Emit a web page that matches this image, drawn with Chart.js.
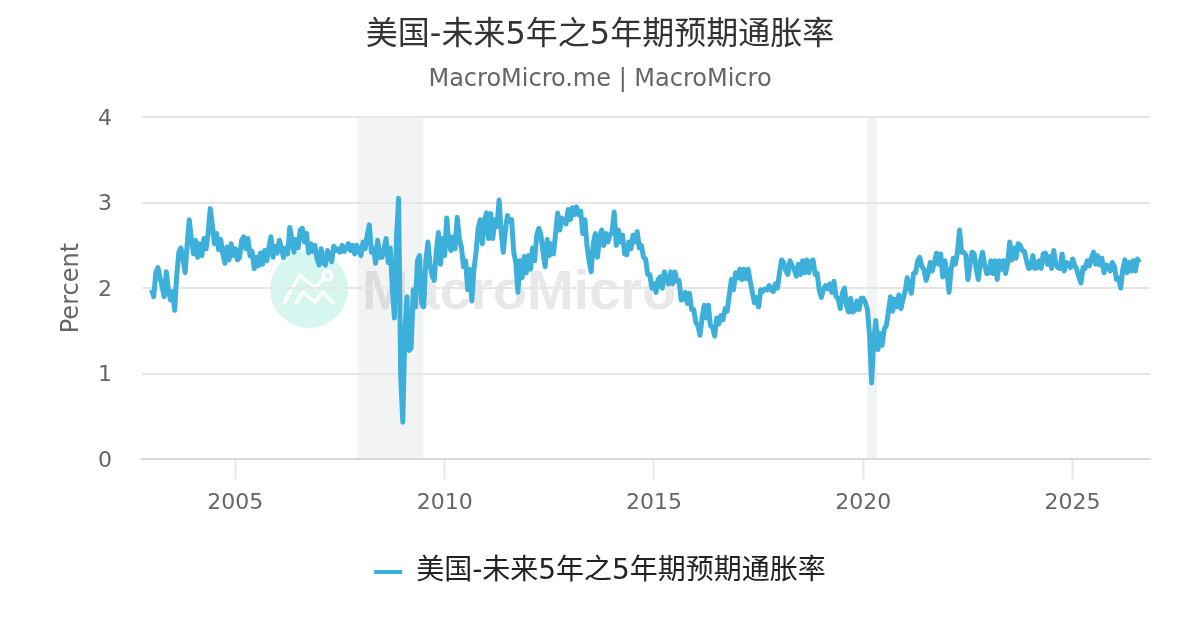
<!DOCTYPE html>
<html>
<head>
<meta charset="utf-8">
<style>
  html, body { margin: 0; padding: 0; background: #fff; }
  canvas { display: block; }
</style>
<script src="https://cdn.jsdelivr.net/npm/chart.js@4"></script>
</head>
<body>
<canvas id="chart" width="1200" height="630"></canvas>
<script>
const seriesName = '美国-未来5年之5年期预期通胀率';
const subtitleText = 'MacroMicro.me | MacroMicro';
const yAxisName = 'Percent';
const xTicks = [2005, 2010, 2015, 2020, 2025];
const yTicks = [0, 1, 2, 3, 4];
// 衰退区间 (start, end)
const recessionStarts = [2007.92, 2020.09];
const recessionEnds = [2009.49, 2020.33];

const dates = [
  2003.00,2003.05,2003.10,2003.15,2003.20,2003.25,2003.30,2003.35,2003.40,2003.45,2003.50,2003.55,2003.60,2003.65,2003.70,2003.75,2003.80,2003.85,2003.90,2003.95,
  2004.00,2004.05,2004.10,2004.15,2004.20,2004.25,2004.30,2004.35,2004.40,2004.45,2004.50,2004.55,2004.60,2004.65,2004.70,2004.75,2004.80,2004.85,2004.90,2004.95,
  2005.00,2005.05,2005.10,2005.15,2005.20,2005.25,2005.30,2005.35,2005.40,2005.45,2005.50,2005.55,2005.60,2005.65,2005.70,2005.75,2005.80,2005.85,2005.90,2005.95,
  2006.00,2006.05,2006.10,2006.15,2006.20,2006.25,2006.30,2006.35,2006.40,2006.45,2006.50,2006.55,2006.60,2006.65,2006.70,2006.75,2006.80,2006.85,2006.90,2006.95,
  2007.00,2007.05,2007.10,2007.15,2007.20,2007.25,2007.30,2007.35,2007.40,2007.45,2007.50,2007.55,2007.60,2007.65,2007.70,2007.75,2007.80,2007.85,2007.90,2007.95,
  2008.00,2008.05,2008.10,2008.15,2008.20,2008.25,2008.30,2008.35,2008.40,2008.45,2008.50,2008.55,2008.60,2008.65,2008.70,2008.75,2008.80,2008.85,2008.90,2008.95,
  2009.00,2009.05,2009.10,2009.15,2009.20,2009.25,2009.30,2009.35,2009.40,2009.45,2009.50,2009.55,2009.60,2009.65,2009.70,2009.75,2009.80,2009.85,2009.90,2009.95,
  2010.00,2010.05,2010.10,2010.15,2010.20,2010.25,2010.30,2010.35,2010.40,2010.45,2010.50,2010.55,2010.60,2010.65,2010.70,2010.75,2010.80,2010.85,2010.90,2010.95,
  2011.00,2011.05,2011.10,2011.15,2011.20,2011.25,2011.30,2011.35,2011.40,2011.45,2011.50,2011.55,2011.60,2011.65,2011.70,2011.75,2011.80,2011.85,2011.90,2011.95,
  2012.00,2012.05,2012.10,2012.15,2012.20,2012.25,2012.30,2012.35,2012.40,2012.45,2012.50,2012.55,2012.60,2012.65,2012.70,2012.75,2012.80,2012.85,2012.90,2012.95,
  2013.00,2013.05,2013.10,2013.15,2013.20,2013.25,2013.30,2013.35,2013.40,2013.45,2013.50,2013.55,2013.60,2013.65,2013.70,2013.75,2013.80,2013.85,2013.90,2013.95,
  2014.00,2014.05,2014.10,2014.15,2014.20,2014.25,2014.30,2014.35,2014.40,2014.45,2014.50,2014.55,2014.60,2014.65,2014.70,2014.75,2014.80,2014.85,2014.90,2014.95,
  2015.00,2015.05,2015.10,2015.15,2015.20,2015.25,2015.30,2015.35,2015.40,2015.45,2015.50,2015.55,2015.60,2015.65,2015.70,2015.75,2015.80,2015.85,2015.90,2015.95,
  2016.00,2016.05,2016.10,2016.15,2016.20,2016.25,2016.30,2016.35,2016.40,2016.45,2016.50,2016.55,2016.60,2016.65,2016.70,2016.75,2016.80,2016.85,2016.90,2016.95,
  2017.00,2017.05,2017.10,2017.15,2017.20,2017.25,2017.30,2017.35,2017.40,2017.45,2017.50,2017.55,2017.60,2017.65,2017.70,2017.75,2017.80,2017.85,2017.90,2017.95,
  2018.00,2018.05,2018.10,2018.15,2018.20,2018.25,2018.30,2018.35,2018.40,2018.45,2018.50,2018.55,2018.60,2018.65,2018.70,2018.75,2018.80,2018.85,2018.90,2018.95,
  2019.00,2019.05,2019.10,2019.15,2019.20,2019.25,2019.30,2019.35,2019.40,2019.45,2019.50,2019.55,2019.60,2019.65,2019.70,2019.75,2019.80,2019.85,2019.90,2019.95,
  2020.00,2020.05,2020.10,2020.15,2020.20,2020.25,2020.30,2020.35,2020.40,2020.45,2020.50,2020.55,2020.60,2020.65,2020.70,2020.75,2020.80,2020.85,2020.90,2020.95,
  2021.00,2021.05,2021.10,2021.15,2021.20,2021.25,2021.30,2021.35,2021.40,2021.45,2021.50,2021.55,2021.60,2021.65,2021.70,2021.75,2021.80,2021.85,2021.90,2021.95,
  2022.00,2022.05,2022.10,2022.15,2022.20,2022.25,2022.30,2022.35,2022.40,2022.45,2022.50,2022.55,2022.60,2022.65,2022.70,2022.75,2022.80,2022.85,2022.90,2022.95,
  2023.00,2023.05,2023.10,2023.15,2023.20,2023.25,2023.30,2023.35,2023.40,2023.45,2023.50,2023.55,2023.60,2023.65,2023.70,2023.75,2023.80,2023.85,2023.90,2023.95,
  2024.00,2024.05,2024.10,2024.15,2024.20,2024.25,2024.30,2024.35,2024.40,2024.45,2024.50,2024.55,2024.60,2024.65,2024.70,2024.75,2024.80,2024.85,2024.90,2024.95,
  2025.00,2025.05,2025.10,2025.15,2025.20,2025.25,2025.30,2025.35,2025.40,2025.45,2025.50,2025.55,2025.60,2025.65,2025.70,2025.75,2025.80,2025.85,2025.90,2025.95,
  2026.00,2026.05,2026.10,2026.15,2026.20,2026.25,2026.30,2026.35,2026.40,2026.45,2026.50,2026.55,2026.60
];

const values = [
  1.98,1.90,2.18,2.24,2.12,2.02,1.90,2.19,1.98,1.86,1.96,1.74,2.15,2.42,2.47,2.34,2.18,2.52,2.80,2.56,
  2.40,2.56,2.36,2.52,2.38,2.58,2.46,2.64,2.93,2.74,2.52,2.64,2.45,2.57,2.40,2.29,2.48,2.33,2.52,2.38,
  2.46,2.33,2.36,2.56,2.60,2.46,2.58,2.38,2.43,2.23,2.36,2.26,2.41,2.28,2.44,2.32,2.47,2.60,2.36,2.49,
  2.41,2.56,2.47,2.36,2.47,2.40,2.71,2.57,2.42,2.57,2.47,2.68,2.70,2.54,2.64,2.41,2.52,2.43,2.50,2.35,
  2.27,2.46,2.30,2.27,2.44,2.37,2.31,2.49,2.44,2.46,2.42,2.50,2.43,2.47,2.52,2.44,2.50,2.40,2.50,2.44,
  2.38,2.54,2.46,2.62,2.74,2.42,2.47,2.29,2.56,2.36,2.36,2.46,2.58,2.30,2.47,2.00,1.65,2.60,3.05,0.96,
  0.43,1.50,1.90,1.27,1.30,1.98,1.78,2.32,2.38,1.82,1.78,2.32,2.54,2.28,2.14,2.09,2.42,2.65,2.28,2.58,
  2.38,2.82,2.52,2.44,2.60,2.46,2.83,2.58,2.48,2.25,2.32,1.98,2.22,1.85,2.22,2.42,2.70,2.80,2.52,2.78,
  2.88,2.58,2.87,2.58,2.80,2.72,3.03,2.66,2.42,2.67,2.85,2.78,2.80,2.42,2.30,1.95,2.32,2.12,2.37,2.18,
  2.38,2.22,2.47,2.32,2.62,2.70,2.62,2.42,2.25,2.57,2.38,2.52,2.40,2.64,2.88,2.68,2.82,2.78,2.75,2.92,
  2.80,2.94,2.86,2.95,2.86,2.90,2.64,2.80,2.50,2.32,2.19,2.52,2.64,2.36,2.59,2.68,2.50,2.64,2.54,2.62,
  2.66,2.89,2.50,2.68,2.54,2.62,2.40,2.39,2.54,2.46,2.62,2.54,2.66,2.47,2.50,2.36,2.34,2.16,2.16,2.00,
  2.05,1.95,2.10,2.13,2.00,2.19,2.10,2.05,2.19,2.05,2.19,2.08,2.09,1.86,1.87,1.95,1.82,1.94,1.75,1.75,
  1.60,1.56,1.45,1.65,1.80,1.65,1.80,1.56,1.54,1.44,1.65,1.58,1.68,1.63,1.76,1.73,1.92,2.10,1.98,2.18,
  2.12,2.22,2.10,2.22,2.11,2.22,2.08,1.95,1.83,1.89,1.78,1.98,1.96,1.99,1.98,2.03,1.98,1.96,2.05,2.00,
  2.18,2.33,2.30,2.20,2.16,2.32,2.26,2.22,2.14,2.28,2.16,2.32,2.18,2.33,2.18,2.31,2.33,2.16,2.17,1.97,
  1.89,1.99,2.03,1.99,2.05,1.95,2.08,1.90,1.88,1.76,1.94,2.00,1.80,1.72,1.88,1.72,1.74,1.85,1.75,1.88,
  1.88,1.83,1.75,1.45,0.89,1.40,1.62,1.28,1.47,1.33,1.52,1.56,1.72,1.90,1.73,1.87,1.78,1.92,1.76,1.87,
  1.96,2.12,2.03,1.94,2.17,2.18,2.32,2.36,2.25,2.22,2.09,2.17,2.30,2.20,2.30,2.41,2.28,2.40,2.13,2.32,
  2.18,1.95,2.22,2.35,2.28,2.42,2.68,2.42,2.42,2.39,2.10,2.27,2.42,2.40,2.22,2.10,2.32,2.42,2.27,2.17,
  2.18,2.32,2.17,2.32,2.10,2.32,2.22,2.32,2.17,2.30,2.54,2.33,2.47,2.35,2.52,2.50,2.44,2.43,2.32,2.23,
  2.24,2.38,2.23,2.24,2.32,2.23,2.40,2.41,2.28,2.37,2.23,2.44,2.28,2.24,2.23,2.40,2.20,2.30,2.28,2.24,
  2.34,2.27,2.22,2.13,2.06,2.24,2.23,2.32,2.26,2.35,2.42,2.28,2.38,2.27,2.35,2.18,2.27,2.26,2.20,2.30,
  2.25,2.10,2.12,2.00,2.22,2.33,2.18,2.30,2.20,2.32,2.20,2.34,2.30
];

const fontFamily = "'DejaVu Sans', 'Noto Sans CJK SC', sans-serif";

// 背景: 衰退区间 + 水印
const backdrop = {
  id: 'backdrop',
  beforeDraw(chart) {
    const { ctx, chartArea, scales } = chart;
    ctx.save();
    ctx.fillStyle = '#f2f4f4';
    recessionStarts.forEach((s, i) => {
      const x0 = scales.x.getPixelForValue(s);
      const x1 = scales.x.getPixelForValue(recessionEnds[i]);
      ctx.fillRect(x0, chartArea.top, x1 - x0, chartArea.bottom - chartArea.top);
    });

    ctx.fillStyle = '#d6f6f0';
    ctx.beginPath();
    ctx.arc(309, 289, 39, 0, Math.PI * 2);
    ctx.fill();
    ctx.strokeStyle = '#fff';
    ctx.lineWidth = 3.5;
    ctx.lineCap = 'round';
    ctx.lineJoin = 'round';
    ctx.beginPath();
    ctx.moveTo(284, 303); ctx.lineTo(300, 275); ctx.lineTo(315, 288); ctx.lineTo(323, 279);
    ctx.moveTo(296, 303); ctx.lineTo(303, 292); ctx.lineTo(315, 302); ctx.lineTo(323, 292); ctx.lineTo(333, 303);
    ctx.stroke();
    ctx.beginPath();
    ctx.arc(327.5, 275.5, 4.3, 0, Math.PI * 2);
    ctx.stroke();

    ctx.fillStyle = 'rgba(0,0,0,0.09)';
    ctx.font = "bold 56px 'Liberation Sans', sans-serif";
    ctx.textAlign = 'left';
    ctx.textBaseline = 'alphabetic';
    ctx.fillText('MacroMicro', 362, 309);
    ctx.restore();
  }
};

new Chart(document.getElementById('chart').getContext('2d'), {
  type: 'line',
  data: {
    datasets: [{
      label: seriesName,
      data: dates.map((d, i) => ({ x: d, y: values[i] })),
      borderColor: '#3cafdb',
      backgroundColor: '#3cafdb',
      borderWidth: 5,
      borderJoinStyle: 'round',
      pointRadius: 0,
      tension: 0,
      fill: false
    }]
  },
  options: {
    responsive: false,
    animation: false,
    devicePixelRatio: 1,
    layout: { padding: { left: 0, right: 0, top: 0, bottom: 34 } },
    scales: {
      x: {
        type: 'linear',
        min: 2002.77,
        max: 2026.85,
        afterBuildTicks: (axis) => { axis.ticks = xTicks.map(v => ({ value: v })); },
        afterFit: (axis) => { axis.height = 89; },
        grid: { drawOnChartArea: false, drawTicks: true, tickLength: 20, tickWidth: 2, tickColor: '#e6e6e6' },
        border: { color: '#d8d8d8', width: 2 },
        ticks: {
          color: '#666666',
          font: { family: fontFamily, size: 22 },
          maxRotation: 0,
          padding: 11,
          callback: (v) => String(v)
        }
      },
      y: {
        min: 0,
        max: 4,
        afterBuildTicks: (axis) => { axis.ticks = yTicks.map(v => ({ value: v })); },
        afterFit: (axis) => { axis.width = 142; },
        grid: { color: '#e6e6e6', lineWidth: 2, drawTicks: false },
        border: { display: false },
        title: {
          display: true,
          text: yAxisName,
          color: '#666666',
          font: { family: fontFamily, size: 24 },
          padding: { top: 57, bottom: 0 }
        },
        ticks: {
          color: '#666666',
          font: { family: fontFamily, size: 22 },
          padding: 30,
          labelOffset: 2
        }
      },
      // 右侧留白用
      spacer: {
        position: 'right',
        afterFit: (axis) => { axis.width = 50; },
        grid: { display: false },
        border: { display: false },
        ticks: { display: false }
      }
    },
    plugins: {
      title: {
        display: true,
        text: seriesName,
        color: '#333333',
        font: { family: fontFamily, size: 32, weight: 'normal' },
        padding: { top: 16, bottom: 11 }
      },
      subtitle: {
        display: true,
        text: subtitleText,
        color: '#666666',
        font: { family: fontFamily, size: 24, weight: 'normal' },
        padding: { top: 0, bottom: 23 }
      },
      legend: {
        display: true,
        position: 'bottom',
        labels: {
          color: '#222222',
          font: { family: fontFamily, size: 28 },
          usePointStyle: true,
          pointStyle: 'line',
          pointStyleWidth: 28,
          padding: 10,
          generateLabels: (chart) => Chart.defaults.plugins.legend.labels.generateLabels(chart).map(l => ({ ...l, lineWidth: 4 }))
        }
      },
      tooltip: { enabled: false }
    }
  },
  plugins: [backdrop]
});
</script>
</body>
</html>
